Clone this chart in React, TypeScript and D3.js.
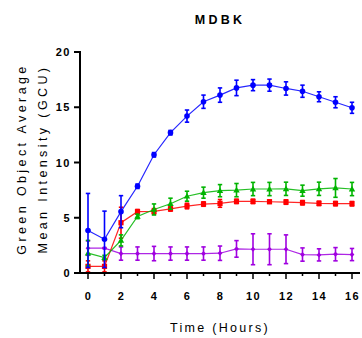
import React from "react";
import * as d3 from "d3";

const hours = [0, 1, 2, 3, 4, 5, 6, 7, 8, 9, 10, 11, 12, 13, 14, 15, 16];
const blueMean = [3.85, 3.05, 5.55, 7.85, 10.7, 12.7, 14.2, 15.5, 16.1, 16.75, 17.0, 17.0, 16.7, 16.45, 15.95, 15.45, 14.95];
const blueErr = [3.35, 2.55, 1.45, 0.2, 0.2, 0.2, 0.55, 0.6, 0.65, 0.7, 0.5, 0.55, 0.6, 0.55, 0.45, 0.5, 0.5];
const redMean = [0.6, 0.6, 4.55, 5.55, 5.58, 5.8, 6.06, 6.24, 6.3, 6.48, 6.48, 6.45, 6.42, 6.36, 6.3, 6.28, 6.27];
const redErr = [0.5, 0.5, 1.4, 0.2, 0.25, 0.2, 0.25, 0.2, 0.35, 0.2, 0.2, 0.15, 0.2, 0.2, 0.2, 0.2, 0.2];
const greenMean = [1.8, 1.4, 2.95, 5.12, 5.75, 6.27, 6.95, 7.27, 7.45, 7.5, 7.6, 7.6, 7.62, 7.45, 7.62, 7.7, 7.6];
const greenErr = [1.15, 0.2, 0.5, 0.2, 0.5, 0.5, 0.45, 0.5, 0.55, 0.6, 0.6, 0.6, 0.6, 0.5, 0.6, 0.85, 0.6];
const purpleMean = [2.25, 2.25, 1.76, 1.76, 1.76, 1.76, 1.76, 1.76, 1.79, 2.18, 2.15, 2.15, 2.15, 1.67, 1.64, 1.7, 1.67];
const purpleErr = [0.65, 0.05, 0.6, 0.6, 0.65, 0.6, 0.6, 0.6, 0.65, 0.75, 1.4, 1.4, 1.3, 0.6, 0.55, 0.6, 0.55];
const yTicks = [0, 5, 10, 15, 20];
const xMajor = [0, 2, 4, 6, 8, 10, 12, 14, 16];

const series = [
  { name: "purple", color: "#a000e0", mean: purpleMean, err: purpleErr, shape: "diamond" },
  { name: "red", color: "#ff0000", mean: redMean, err: redErr, shape: "square" },
  { name: "green", color: "#00b400", mean: greenMean, err: greenErr, shape: "triangle" },
  { name: "blue", color: "#0000ff", mean: blueMean, err: blueErr, shape: "circle" },
];

const font = "'Liberation Sans', Arial, sans-serif";

export default function App() {
  const x = d3.scaleLinear().domain([0, 16]).range([88, 352]);
  const y = d3.scaleLinear().domain([0, 20]).range([273, 52]);
  const line = d3.line<number>().x((_, i) => x(hours[i])).y((d) => y(d));

  const marker = (shape: string, cx: number, cy: number, color: string, key: string) => {
    if (shape === "circle") return <circle key={key} cx={cx} cy={cy} r={2.8} fill={color} />;
    if (shape === "square") return <rect key={key} x={cx - 2.6} y={cy - 2.6} width={5.2} height={5.2} fill={color} />;
    if (shape === "triangle")
      return <path key={key} d={`M${cx},${cy - 3.3}L${cx + 3.2},${cy + 2.4}L${cx - 3.2},${cy + 2.4}Z`} fill={color} />;
    return <path key={key} d={`M${cx},${cy - 2.6}L${cx + 2.4},${cy}L${cx},${cy + 2.6}L${cx - 2.4},${cy}Z`} fill={color} />;
  };

  return (
    <svg width={362} height={338} style={{ position: "absolute", left: 0, top: 0 }}>
      <text x={220} y={24} textAnchor="middle" fontFamily={font} fontWeight="bold" fontSize={12.5} letterSpacing={3.2}>
        MDBK
      </text>
      {series.map((s) => (
        <g key={s.name}>
          <path d={line(s.mean) || ""} fill="none" stroke={s.color} strokeWidth={1.2} opacity={0.85} />
          {s.mean.map((m, i) => {
            const cx = x(hours[i]);
            const lo = y(Math.max(0, m - s.err[i]));
            const hi = y(m + s.err[i]);
            return (
              <g key={i}>
                <line x1={cx} x2={cx} y1={lo} y2={hi} stroke={s.color} strokeWidth={1.6} />
                <line x1={cx - 2.2} x2={cx + 2.2} y1={lo} y2={lo} stroke={s.color} strokeWidth={1.6} />
                <line x1={cx - 2.2} x2={cx + 2.2} y1={hi} y2={hi} stroke={s.color} strokeWidth={1.6} />
                {marker(s.shape, cx, y(m), s.color, "m" + i)}
              </g>
            );
          })}
        </g>
      ))}
      <line x1={80} x2={80} y1={51} y2={274} stroke="#000" strokeWidth={2} />
      {yTicks.map((t) => (
        <g key={t}>
          <line x1={74} x2={80} y1={y(t)} y2={y(t)} stroke="#000" strokeWidth={2} />
          <text x={71} y={y(t) + 4} textAnchor="end" fontFamily={font} fontWeight="bold" fontSize={11} letterSpacing={1.5}>
            {t}
          </text>
        </g>
      ))}
      <line x1={75} x2={360} y1={273} y2={273} stroke="#000" strokeWidth={2} />
      {hours.map((h) => (
        <line key={h} x1={x(h)} x2={x(h)} y1={273} y2={xMajor.includes(h) ? 279 : 276} stroke="#000" strokeWidth={1.5} />
      ))}
      {xMajor.map((h) => (
        <text key={h} x={x(h) + 0.5} y={300} textAnchor="middle" fontFamily={font} fontWeight="bold" fontSize={11} letterSpacing={1.5}>
          {h}
        </text>
      ))}
      <text x={220} y={332} textAnchor="middle" fontFamily={font} fontSize={12.5} letterSpacing={2.3}>
        Time (Hours)
      </text>
      <g transform="translate(26,159) rotate(-90)">
        <text x={0} y={0} textAnchor="middle" fontFamily={font} fontSize={12.5} letterSpacing={3.4}>
          Green Object Average
        </text>
        <text x={0} y={21} textAnchor="middle" fontFamily={font} fontSize={12.5} letterSpacing={3.4}>
          Mean Intensity (GCU)
        </text>
      </g>
    </svg>
  );
}
